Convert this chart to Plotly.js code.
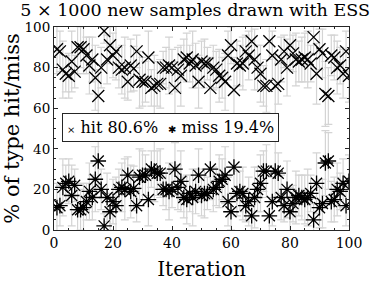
<!DOCTYPE html>
<html>
<head>
<meta charset="utf-8">
<script src="https://cdn.plot.ly/plotly-3.0.1.min.js"></script>
<style>html,body{margin:0;padding:0;background:#fff;}#chart{width:381px;height:281px;}</style>
</head>
<body>
<div id="chart"></div>
<script>
const iterations = Array.from({length: 100}, (_, i) => i + 1);
const hitValues = [89,88,79,77,76,83,78,90,90,89, 86,81,84,75,66,80,98,84,91,86,
  88,80,79,80,73,81,79.5,88,74,73, 73,85,70,71,72,72,80,80,81,80,
  70,79,76,84,85,82,84,81,73,83, 82,82,70,80,79,76,75,73,86,91,
  69,82,81,82,88,86,93,84,80,77, 71,71,93,86,71,72,84,88,80,91,
  87,84,83,84,85,84,82,95,77,89, 87,67,66,86,85,80,81,77,88,76];
const missValues = [11,12,21,23,24,17,22,10,10,11, 14,19,16,25,34,20,2,16,9,14,
  12,20,21,20,27,19,20.5,12,26,27, 27,15,30,29,28,28,20,20,19,20,
  30,21,24,16,15,18,16,19,27,17, 18,18,30,20,21,24,25,27,14,9,
  31,18,19,18,12,14,7,16,20,23, 29,29,7,14,29,28,16,12,20,9,
  13,16,17,16,15,16,18,5,23,11, 13,33,34,14,15,20,19,23,12,24];
const errValues = [12,10,14,9,11,15,8,13,10,12, 9,14,11,16,13,10,6,12,9,11,
  14,10,12,15,9,13,11,8,14,12, 10,13,9,15,11,12,8,10,14,9,
  13,11,15,10,12,9,14,11,13,10, 12,8,15,11,9,13,10,14,12,9,
  16,11,10,13,8,12,9,15,11,14, 10,13,9,12,15,10,11,8,14,12,
  9,13,10,11,12,14,9,8,15,10, 12,16,14,10,11,13,9,12,10,13];
const seriesNames = ['hit 80.6%', 'miss 19.4%'];
const titleText = '5 × 1000 new samples drawn with ESS';
const xTitle = 'Iteration';
const yTitle = '% of type hit/miss';

const FONT = 'DejaVu Serif, serif';
const errStyle = {type: 'data', array: errValues, visible: true, color: '#d4d4d4', thickness: 1.2, width: 4};

const traces = [
  {x: iterations, y: hitValues, mode: 'markers', showlegend: false, hoverinfo: 'skip',
   marker: {opacity: 0}, error_y: errStyle},
  {x: iterations, y: missValues, mode: 'markers', showlegend: false, hoverinfo: 'skip',
   marker: {opacity: 0}, error_y: errStyle},
  {x: iterations, y: hitValues, mode: 'markers', name: seriesNames[0], showlegend: false,
   marker: {symbol: 'x-thin-open', size: 12, color: '#000', line: {color: '#000', width: 1.3}}},
  {x: iterations, y: missValues, mode: 'markers', name: seriesNames[1], showlegend: false,
   marker: {symbol: 'asterisk-open', size: 13, color: '#000', line: {color: '#000', width: 1.3}}}
];

const axisCommon = {
  showline: true, mirror: 'ticks', linecolor: '#262626', linewidth: 1,
  ticks: 'inside', ticklen: 4, tickcolor: '#262626', showgrid: false, zeroline: false,
  tickfont: {family: FONT, size: 14, color: '#000'},
  minor: {ticks: 'inside', ticklen: 2, tickcolor: '#262626', dtick: 5, showgrid: false}
};

const legendText = '<span style="font-size:10px">×</span> ' + seriesNames[0] +
  '  <span style="font-size:10px">✱</span> ' + seriesNames[1];

const layout = {
  width: 381, height: 281,
  margin: {l: 54, r: 32, t: 27, b: 51},
  paper_bgcolor: '#fff', plot_bgcolor: '#fff',
  title: {text: titleText, font: {family: FONT, size: 17.5, color: '#000'}, x: 0.512, xanchor: 'center', y: 0.965, yanchor: 'middle'},
  xaxis: Object.assign({}, axisCommon, {range: [0, 100], dtick: 20, tick0: 0,
    title: {text: xTitle, font: {family: FONT, size: 20, color: '#000'}, standoff: 12}}),
  yaxis: Object.assign({}, axisCommon, {range: [0, 100], dtick: 20, tick0: 0,
    tickfont: {family: FONT, size: 13.5, color: '#000'},
    title: {text: yTitle, font: {family: FONT, size: 21, color: '#000'}, standoff: 6}}),
  showlegend: false,
  annotations: [{
    xref: 'paper', yref: 'paper', x: 0.027, y: 0.576, xanchor: 'left', yanchor: 'top',
    text: legendText, showarrow: false, align: 'left',
    font: {family: FONT, size: 16, color: '#000'},
    bgcolor: '#fff', bordercolor: '#262626', borderwidth: 1, borderpad: 4
  }]
};

Plotly.newPlot('chart', traces, layout, {staticPlot: true, displayModeBar: false});
</script>
</body>
</html>
